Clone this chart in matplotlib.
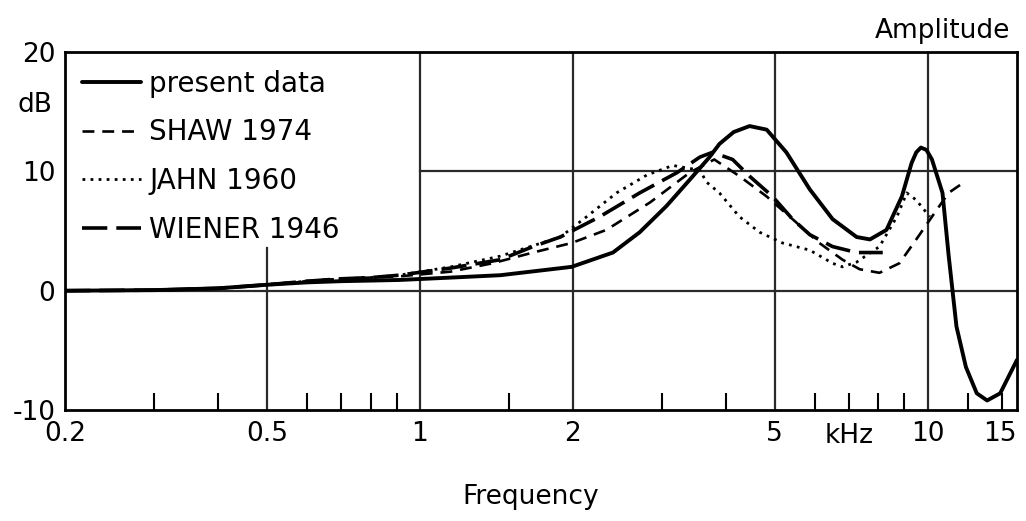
import numpy as np
import matplotlib
matplotlib.use('Agg')
import matplotlib.pyplot as plt

# values (frequency in kHz, level in dB)
f_present = [0.2, 0.3, 0.4, 0.5, 0.6, 0.7, 0.8, 0.91, 1.15, 1.44, 1.99, 2.40, 2.71, 3.06, 3.40,
             3.72, 3.89, 4.15, 4.46, 4.82, 5.27, 5.86, 6.5, 7.25, 7.7, 8.3, 8.9, 9.3, 9.5, 9.7,
             9.95, 10.2, 10.7, 11.0, 11.4, 11.9, 12.5, 13.1, 13.9, 15.0]
db_present = [0, 0.05, 0.2, 0.5, 0.7, 0.8, 0.85, 0.9, 1.1, 1.3, 2.0, 3.2, 4.9, 7.1, 9.3,
              11.2, 12.3, 13.3, 13.8, 13.5, 11.6, 8.5, 6.0, 4.5, 4.3, 5.1, 7.9, 10.7, 11.6, 12.0,
              11.8, 11.0, 8.2, 3.0, -3.0, -6.4, -8.6, -9.2, -8.6, -5.8]

f_shaw = [0.2, 0.3, 0.4, 0.5, 0.6, 0.7, 0.8, 0.91, 1.15, 1.39, 1.67, 1.99, 2.33, 2.84, 3.40,
          3.80, 4.26, 4.82, 5.42, 6.12, 6.8, 7.35, 8.04, 8.8, 9.5, 10.2, 11.0, 11.9]
db_shaw = [0, 0.05, 0.2, 0.5, 0.8, 1.0, 1.1, 1.2, 1.6, 2.3, 3.2, 4.0, 5.1, 7.4, 9.9,
           11.0, 9.6, 7.9, 6.0, 4.0, 2.6, 1.8, 1.5, 2.3, 4.3, 6.2, 8.2, 9.2]

f_jahn = [0.2, 0.3, 0.4, 0.5, 0.6, 0.7, 0.8, 0.91, 1.15, 1.44, 1.89, 2.13, 2.44, 2.80, 3.15,
          3.56, 3.67, 3.89, 4.26, 4.67, 5.18, 5.86, 6.5, 6.8, 7.25, 8.04, 8.7, 9.1, 9.5, 10.1]
db_jahn = [0, 0.05, 0.2, 0.5, 0.8, 1.0, 1.1, 1.3, 2.0, 2.9, 4.5, 6.2, 8.2, 9.7, 10.5,
           10.1, 9.1, 8.2, 6.2, 4.9, 4.0, 3.4, 2.3, 2.0, 2.4, 3.7, 6.2, 8.2, 7.6, 6.2]

f_wiener = [0.2, 0.3, 0.4, 0.5, 0.6, 0.7, 0.8, 0.91, 1.15, 1.44, 1.67, 1.89, 2.26, 2.71, 3.21,
            3.56, 3.77, 4.13, 4.46, 4.95, 5.42, 5.86, 6.5, 7.25, 8.16]
db_wiener = [0, 0.05, 0.2, 0.5, 0.8, 1.0, 1.1, 1.3, 1.9, 2.6, 3.7, 4.5, 6.2, 8.2, 9.9,
             11.2, 11.6, 11.0, 9.6, 7.9, 6.0, 4.7, 3.7, 3.2, 3.2]

major_ticks = [0.2, 0.5, 1, 2, 5, 10, 15]
major_labels = ['0.2', '0.5', '1', '2', '5', '10', '15']
minor_ticks = [0.3, 0.4, 0.6, 0.7, 0.8, 0.9, 1.5, 3, 4, 6, 7, 8, 9, 12, 14]
y_ticks = [-10, 0, 10, 20]

plt.rcParams['font.family'] = 'DejaVu Sans'
fig = plt.figure(figsize=(10.26, 5.21), dpi=100)
ax = fig.add_axes([0.0634, 0.213, 0.9278, 0.687])
ax.set_xscale('log')
ax.set_xlim(0.2, 15)
ax.set_ylim(-10, 20)

# grid lines (partly hidden behind the legend in the original)
gc = '#2a2a2a'
for fx in [1, 2, 5, 10]:
    ax.axvline(fx, color=gc, lw=1.6, zorder=1)
ax.axvline(0.5, ymax=(3.6 + 10) / 30, color=gc, lw=1.6, zorder=1)
ax.axhline(0, color=gc, lw=1.6, zorder=1)
x10 = np.log10(1 / 0.2) / np.log10(15 / 0.2)
ax.axhline(10, xmin=x10, color=gc, lw=1.6, zorder=1)

ax.plot(f_present, db_present, color='black', lw=2.8, solid_capstyle='round',
        solid_joinstyle='round', label='present data', zorder=4)
ax.plot(f_shaw, db_shaw, color='black', lw=1.9, linestyle=(0, (4.5, 3.0)),
        label='SHAW 1974', zorder=3)
ax.plot(f_jahn, db_jahn, color='black', lw=2.0, linestyle=(0, (1, 1.9)),
        label='JAHN 1960', zorder=3)
ax.plot(f_wiener, db_wiener, color='black', lw=2.6, linestyle=(0, (7, 2.5)),
        label='WIENER 1946', zorder=3)

for s in ax.spines.values():
    s.set_linewidth(2.0)
    s.set_color('black')

ax.set_xticks(major_ticks)
ax.set_xticklabels(major_labels)
ax.set_xticks(minor_ticks, minor=True)
ax.xaxis.set_minor_formatter(plt.NullFormatter())
ax.tick_params(axis='x', which='major', length=0, pad=8, labelsize=19)
ax.tick_params(axis='x', which='minor', direction='in', length=12, width=1.5)
ax.get_xticklabels()[-1].set_horizontalalignment('right')
ax.set_yticks(y_ticks)
ax.set_yticklabels(['-10', '0', '10', '20'])
ax.tick_params(axis='y', length=0, pad=7, labelsize=19)

ax.text(7.0, -0.035, 'kHz', transform=ax.get_xaxis_transform(), ha='center', va='top',
        fontsize=19)
ax.text(-0.032, 15.6, 'dB', transform=ax.get_yaxis_transform(), ha='center', va='center',
        fontsize=19)
fig.text(0.985, 0.94, 'Amplitude', ha='right', va='center', fontsize=19)
fig.text(0.517, 0.046, 'Frequency', ha='center', va='center', fontsize=19)

leg = ax.legend(loc='upper left', bbox_to_anchor=(-0.008, 1.02), frameon=False,
                fontsize=20, handlelength=2.1, handletextpad=0.3, labelspacing=0.74)

fig.savefig('out.png', dpi=100)
